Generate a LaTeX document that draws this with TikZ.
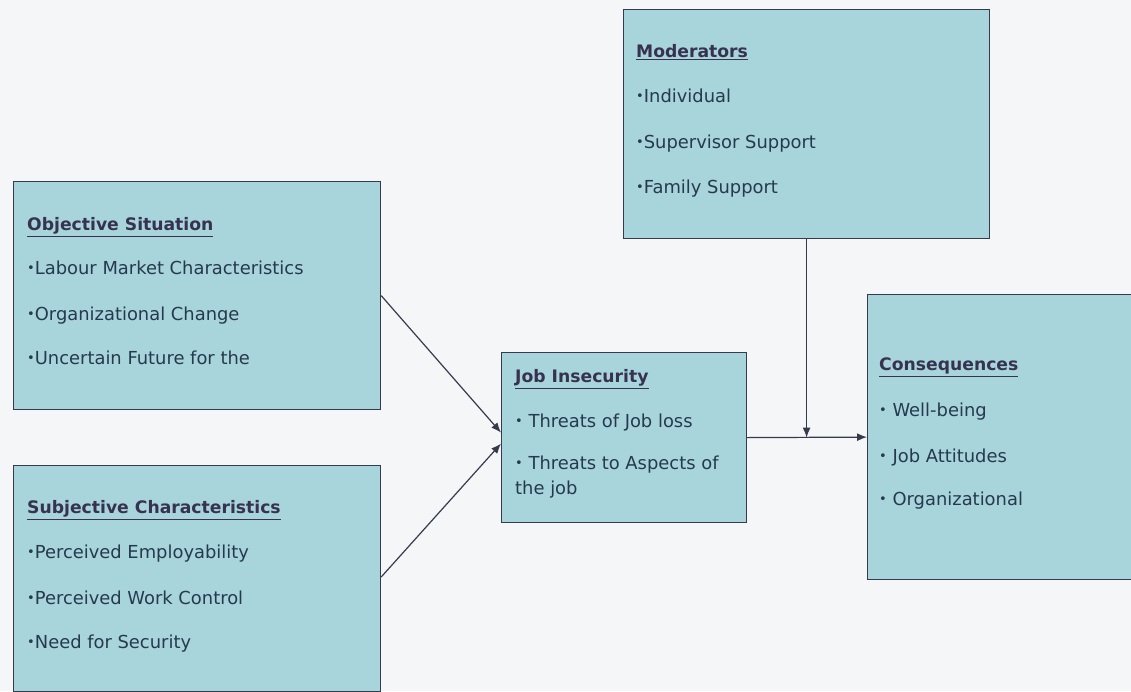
\documentclass[tikz,border=0pt]{standalone}
\usepackage{fontspec}
\setmainfont{DejaVu Sans}
\usetikzlibrary{arrows.meta,calc}
\definecolor{bgc}{RGB}{244,246,248}
\definecolor{boxfill}{RGB}{168,212,220}
\definecolor{boxline}{RGB}{55,58,75}
\definecolor{txtc}{RGB}{38,58,78}
\definecolor{headc}{RGB}{55,50,80}
\newcommand{\bul}{\raisebox{0.2ex}{\fontsize{13}{13}\selectfont •}}
\tikzset{
  box/.style={draw=boxline, line width=1.2pt, fill=boxfill, anchor=north west, inner sep=0pt},
  head/.style={anchor=mid west, inner sep=0pt, text=headc, font=\fontsize{17.2}{19}\selectfont\bfseries},
  item/.style={anchor=mid west, inner sep=0pt, text=txtc, font=\fontsize{17.9}{20}\selectfont},
  conn/.style={draw=boxline, line width=1.2pt},
  arr/.style={conn, -{Latex[length=10pt,width=8pt]}}
}
\begin{document}
\begin{tikzpicture}[x=1pt,y=-1pt]
\useasboundingbox (0,0) rectangle (1131,691);
\fill[bgc] (0,0) rectangle (1131,691);
% boxes
\node[box, minimum width=367pt, minimum height=228pt] (obj) at (13,181) {};
\node[box, minimum width=367pt, minimum height=226pt] (sub) at (13,465) {};
\node[box, minimum width=245pt, minimum height=170pt] (job) at (501,352) {};
\node[box, minimum width=366pt, minimum height=229pt] (mod) at (623,9) {};
\node[box, minimum width=275pt, minimum height=285pt] (cons) at (867,294) {};
% objective
\node[head] (objh) at (27,228) {\underline{Objective Situation}};
\node[item] (obj1) at (27,272) {\bul Labour Market Characteristics};
\node[item] (obj2) at (27,318) {\bul Organizational Change};
\node[item] (obj3) at (27,362) {\bul Uncertain Future for the};
% subjective
\node[head] (subh) at (27,511) {\underline{Subjective Characteristics}};
\node[item] (sub1) at (27,556) {\bul Perceived Employability};
\node[item] (sub2) at (27,602) {\bul Perceived Work Control};
\node[item] (sub3) at (27,646) {\bul Need for Security};
% moderators
\node[head] (modh) at (636,55) {\underline{Moderators}};
\node[item] (mod1) at (636,100) {\bul Individual};
\node[item] (mod2) at (636,146) {\bul Supervisor Support};
\node[item] (mod3) at (636,191) {\bul Family Support};
% job insecurity
\node[head] (jobh) at (515,380) {\underline{Job Insecurity}};
\node[item] (job1) at (515,425) {\bul\ Threats of Job loss};
\node[item] (job2) at (515,467) {\bul\ Threats to Aspects of};
\node[item] (job3) at (515,492) {the job};
% consequences
\node[head] (consh) at (879,368) {\underline{Consequences}};
\node[item] (cons1) at (879,414) {\bul\ Well-being};
\node[item] (cons2) at (879,460) {\bul\ Job Attitudes};
\node[item] (cons3) at (879,503) {\bul\ Organizational};
% connectors
\coordinate (jobin1) at ($(job.west)+(0,-5)$);
\coordinate (jobin2) at ($(job.west)+(0,6)$);
\coordinate (subout) at ($(sub.north east)+(0,112)$);
\draw[arr] (obj.east) -- (jobin1);
\draw[arr] (subout) -- (jobin2);
\draw[arr] (job.east) -- (cons.west);
\coordinate (meet) at (mod.south |- job.east);
\draw[arr] (mod.south) -- (meet);
\end{tikzpicture}
\end{document}
